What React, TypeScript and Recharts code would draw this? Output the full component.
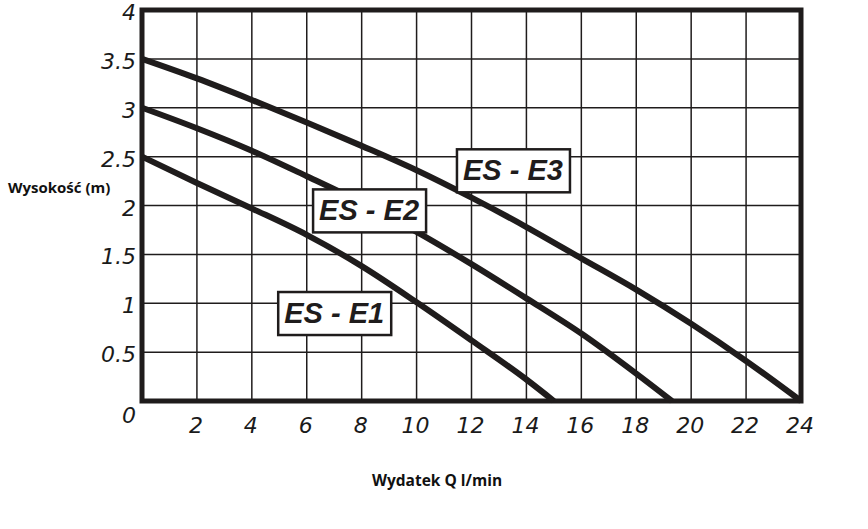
import React from "react";
import { LineChart, Line, XAxis, YAxis, CartesianGrid, ReferenceArea, ReferenceDot } from "recharts";

// flow (l/min) and head (m)
const e1Flow = [0, 2, 4, 6, 8, 10, 12, 14, 15];
const e1Head = [2.5, 2.23, 1.97, 1.7, 1.38, 1.01, 0.62, 0.22, 0];

const e2Flow = [0, 2, 4, 6, 8, 10, 12, 14, 16, 18, 19.3];
const e2Head = [3.0, 2.79, 2.56, 2.3, 2.03, 1.73, 1.4, 1.05, 0.69, 0.28, 0];

const e3Flow = [0, 2, 4, 6, 8, 10, 12, 14, 16, 18, 20, 22, 24];
const e3Head = [3.5, 3.3, 3.08, 2.85, 2.61, 2.36, 2.08, 1.78, 1.46, 1.14, 0.79, 0.41, 0];

const flowTicks = [2, 4, 6, 8, 10, 12, 14, 16, 18, 20, 22, 24];
const headTicks = [0, 0.5, 1, 1.5, 2, 2.5, 3, 3.5, 4];

const seriesNames = ["ES - E1", "ES - E2", "ES - E3"];

const toPoints = (flow: number[], head: number[]) => flow.map((q, i) => ({ q, h: head[i] }));

const curves = [
  { name: seriesNames[0], data: toPoints(e1Flow, e1Head), tag: { q: 7.0, h: 0.9 } },
  { name: seriesNames[1], data: toPoints(e2Flow, e2Head), tag: { q: 8.27, h: 1.95 } },
  { name: seriesNames[2], data: toPoints(e3Flow, e3Head), tag: { q: 13.51, h: 2.36 } },
];

const INK = "#1f1c1c";
const tickFont = { fontFamily: "'DejaVu Sans', sans-serif", fontStyle: "italic", fontSize: 22, fill: "#1a1a1a" };

const HeadTick = ({ x, y, payload }: any) => (
  <text x={x - 6} y={y + 10 + (payload.value === 0 ? 12 : 0)} textAnchor="end" {...tickFont}>
    {payload.value}
  </text>
);

const FlowTick = ({ x, y, payload }: any) => (
  <text x={x - 1} y={y + 32} textAnchor="middle" {...tickFont}>
    {payload.value}
  </text>
);

const TagBox = (label: string) => (props: any) => {
  const { cx, cy } = props;
  return (
    <g>
      <rect x={cx - 56} y={cy - 21} width={113} height={43} fill="#fff" stroke={INK} strokeWidth={2.5} />
      <text
        x={cx}
        y={cy + 10}
        textAnchor="middle"
        fontFamily="'Liberation Sans', Arial, sans-serif"
        fontWeight="bold"
        fontStyle="italic"
        fontSize={29}
        fill={INK}
      >
        {label}
      </text>
    </g>
  );
};

export default function App() {
  return (
    <div style={{ position: "relative", width: 868, height: 529, background: "#fff" }}>
      <style>{`body{margin:0}`}</style>
      <LineChart width={868} height={529} margin={{ top: 10, right: 67, left: 0, bottom: 0 }}>
        <CartesianGrid stroke={INK} strokeWidth={1.5} />
        <XAxis
          type="number"
          dataKey="q"
          domain={[0, 24]}
          ticks={flowTicks}
          height={128}
          axisLine={false}
          tickLine={false}
          tickSize={0}
          tickMargin={0}
          tick={<FlowTick />}
          interval={0}
        />
        <YAxis
          type="number"
          domain={[0, 4]}
          ticks={headTicks}
          width={142}
          axisLine={false}
          tickLine={false}
          tickSize={0}
          tickMargin={0}
          tick={<HeadTick />}
          interval={0}
        />
        {curves.map((c) => (
          <Line
            key={c.name}
            data={c.data}
            dataKey="h"
            name={c.name}
            type="monotone"
            stroke={INK}
            strokeWidth={6}
            dot={false}
            activeDot={false}
            isAnimationActive={false}
          />
        ))}
        <ReferenceArea x1={0} x2={24} y1={0} y2={4} fill="none" stroke={INK} strokeWidth={5} />
        {curves.map((c) => (
          <ReferenceDot key={`tag-${c.name}`} x={c.tag.q} y={c.tag.h} shape={TagBox(c.name)} />
        ))}
      </LineChart>
      <div
        style={{
          position: "absolute",
          left: 8,
          top: 177,
          fontFamily: "'Open Sans', sans-serif",
          fontWeight: 700,
          fontSize: 15,
          color: "#111",
          whiteSpace: "nowrap",
        }}
      >
        Wysokość (m)
      </div>
      <div
        style={{
          position: "absolute",
          left: 372,
          top: 469,
          fontFamily: "'Open Sans', sans-serif",
          fontWeight: 700,
          fontSize: 15.5,
          color: "#111",
          whiteSpace: "nowrap",
        }}
      >
        Wydatek Q l/min
      </div>
    </div>
  );
}
